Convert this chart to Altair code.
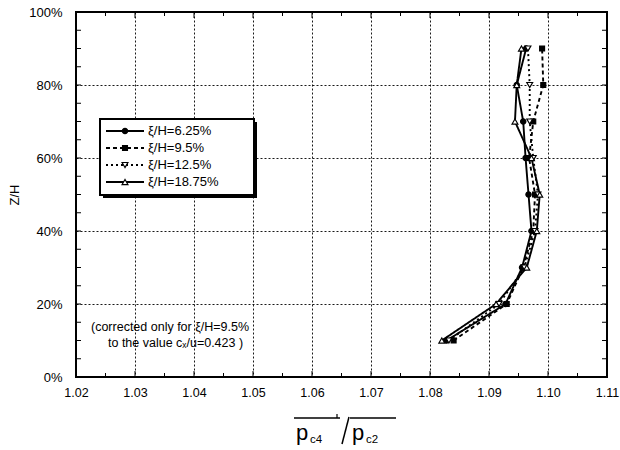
import altair as alt
import numpy as np
import pandas as pd

# Height levels Z/H (%) and pressure ratio for each ξ/H position
z_levels = [10, 20, 30, 40, 50, 60, 70, 80, 90]
ratio_625 = [1.0828, 1.0928, 1.0956, 1.0972, 1.0967, 1.0962, 1.0958, 1.0947, 1.0963]
ratio_95 = [1.0840, 1.0930, 1.0958, 1.0975, 1.0978, 1.0968, 1.0975, 1.0992, 1.0990]
ratio_125 = [1.0832, 1.0917, 1.0960, 1.0978, 1.0983, 1.0975, 1.0969, 1.0969, 1.0966]
ratio_1875 = [1.0820, 1.0912, 1.0964, 1.0981, 1.0986, 1.0972, 1.0944, 1.0947, 1.0955]

series_labels = ["ξ/H=6.25%", "ξ/H=9.5%", "ξ/H=12.5%", "ξ/H=18.75%"]
series_values = [ratio_625, ratio_95, ratio_125, ratio_1875]

x_tick_labels = [1.02, 1.03, 1.04, 1.05, 1.06, 1.07, 1.08, 1.09, 1.10, 1.11]
y_tick_labels = [0, 20, 40, 60, 80, 100]

note_lines = ["(corrected only for ξ/H=9.5%", "to the value cₓ/u=0.423 )"]

# plot area size in pixels
W, H = 531, 365
FONT = "Liberation Sans"

styles = [
    dict(dash=[1, 0], shape="circle", fill="black", size=28),
    dict(dash=[4, 3], shape="square", fill="black", size=24),
    dict(dash=[2, 3], shape="triangle-down", fill="white", size=34),
    dict(dash=[1, 0], shape="triangle-up", fill="white", size=34),
]

xscale = alt.Scale(domain=[1.02, 1.11], nice=False, zero=False)
yscale = alt.Scale(domain=[0, 100], nice=False)

x_axis = alt.Axis(
    values=x_tick_labels, format=".2f", title=None, ticks=False, domain=False,
    grid=True, gridColor="black", gridDash=[2, 2], gridWidth=1, gridOpacity=0.9,
    labelPadding=9, labelFontSize=12.5, labelFont=FONT, labelColor="black", labelFlush=False)
y_axis = alt.Axis(
    values=y_tick_labels, labelExpr="datum.value + '%'", title="Z/H", ticks=False, domain=False,
    grid=True, gridColor="black", gridDash=[2, 2], gridWidth=1, gridOpacity=0.9,
    labelPadding=14, labelFontSize=13, labelFont=FONT, labelColor="black", labelFlush=False,
    titleFont=FONT, titleFontSize=13, titleFontWeight="normal", titleColor="black",
    titleX=-62, titleY=H / 2, titleAngle=-90, titleBaseline="middle", titleAlign="center")


def X(field="ratio"):
    return alt.X(f"{field}:Q", scale=xscale, axis=x_axis, title=None)


def Y(field="z"):
    return alt.Y(f"{field}:Q", scale=yscale, axis=y_axis, title="Z/H")


rows = []
for label, vals in zip(series_labels, series_values):
    for z, v in zip(z_levels, vals):
        rows.append({"series": label, "z": z, "ratio": v})
df = pd.DataFrame(rows)

one = pd.DataFrame({"a": [0]})

layers = []

# inward ticks on all four sides
xt = pd.DataFrame({"ratio": np.round(np.arange(1.02, 1.1101, 0.005), 3)})
major = np.isclose(np.round(xt["ratio"] * 100, 6) % 1, 0)
yt = pd.DataFrame({"z": np.arange(0, 101, 5)})
for y0, sgn in [(H, -1), (0, 1)]:
    for ln, sub in [(6, xt[major]), (4, xt[~major])]:
        layers.append(alt.Chart(sub).mark_rule(color="black", strokeWidth=1).encode(
            x=X(), y=alt.value(y0), y2=alt.value(y0 + sgn * ln)))
for x0, sgn in [(0, 1), (W, -1)]:
    layers.append(alt.Chart(yt).mark_rule(color="black", strokeWidth=1).encode(
        y=Y(), x=alt.value(x0), x2=alt.value(x0 + sgn * 5)))

# profile lines and markers
for label, st in zip(series_labels, styles):
    sub = df[df["series"] == label]
    layers.append(alt.Chart(sub).mark_line(color="black", strokeWidth=1.9, strokeDash=st["dash"]).encode(
        x=X(), y=Y(), order="z:Q"))
for label, st in zip(series_labels, styles):
    sub = df[df["series"] == label]
    layers.append(alt.Chart(sub).mark_point(
        shape=st["shape"], filled=True, fill=st["fill"], stroke="black", strokeWidth=1.2,
        size=st["size"], opacity=1).encode(x=X(), y=Y()))

# legend box with shadow
lx0, ly0, lx1, ly1 = 24, 107, 178, 183
layers.append(alt.Chart(one).mark_rect(color="black").encode(
    x=alt.value(lx0 + 3), x2=alt.value(lx1 + 3), y=alt.value(ly0 + 3), y2=alt.value(ly1 + 3)))
layers.append(alt.Chart(one).mark_rect(fill="white", stroke="black", strokeWidth=2).encode(
    x=alt.value(lx0), x2=alt.value(lx1), y=alt.value(ly0), y2=alt.value(ly1)))
for i, (label, st) in enumerate(zip(series_labels, styles)):
    ry = ly0 + 12 + i * 17
    layers.append(alt.Chart(one).mark_rule(color="black", strokeWidth=1.8, strokeDash=st["dash"]).encode(
        x=alt.value(lx0 + 6), x2=alt.value(lx0 + 44), y=alt.value(ry)))
    layers.append(alt.Chart(one).mark_point(
        shape=st["shape"], filled=True, fill=st["fill"], stroke="black", strokeWidth=1.2,
        size=st["size"], opacity=1).encode(x=alt.value(lx0 + 25), y=alt.value(ry)))
    layers.append(alt.Chart(one).mark_text(
        align="left", baseline="middle", font=FONT, fontSize=13, color="black").encode(
        x=alt.value(lx0 + 48), y=alt.value(ry), text=alt.value(label)))

# correction note
for i, (line, dx) in enumerate(zip(note_lines, [15, 32])):
    layers.append(alt.Chart(one).mark_text(
        align="left", baseline="middle", font=FONT, fontSize=12.5, color="black").encode(
        x=alt.value(dx), y=alt.value(315 + i * 16), text=alt.value(line)))

# x-axis title: overlined p_c4 / p_c2
base_y = 440 - 12          # baseline of the large "p"
over_y = 418 - 12          # overline height
for px, sub_txt in [(220, "c4"), (276, "c2")]:
    layers.append(alt.Chart(one).mark_text(
        align="left", baseline="alphabetic", font=FONT, fontSize=22, color="black").encode(
        x=alt.value(px), y=alt.value(base_y), text=alt.value("p")))
    layers.append(alt.Chart(one).mark_text(
        align="left", baseline="alphabetic", font=FONT, fontSize=11.5, color="black").encode(
        x=alt.value(px + 14), y=alt.value(base_y + 3), text=alt.value(sub_txt)))
    layers.append(alt.Chart(one).mark_rule(color="black", strokeWidth=1.5).encode(
        x=alt.value(px - 2), x2=alt.value(px + 44), y=alt.value(over_y)))
layers.append(alt.Chart(one).mark_rule(color="black", strokeWidth=1.5).encode(
    x=alt.value(266), x2=alt.value(273), y=alt.value(base_y + 4), y2=alt.value(over_y - 1)))
layers.append(alt.Chart(one).mark_rule(color="black", strokeWidth=1.2).encode(
    x=alt.value(261), y=alt.value(over_y), y2=alt.value(over_y - 4)))

chart = alt.layer(*layers).properties(
    width=W, height=H,
    autosize=alt.AutoSizeParams(type="none"),
    padding={"left": 76, "top": 12, "right": 13, "bottom": 73},
    background="white",
).configure_view(stroke="black", strokeWidth=2)

chart.save("out.html", embed_options={"renderer": "svg", "actions": False})
